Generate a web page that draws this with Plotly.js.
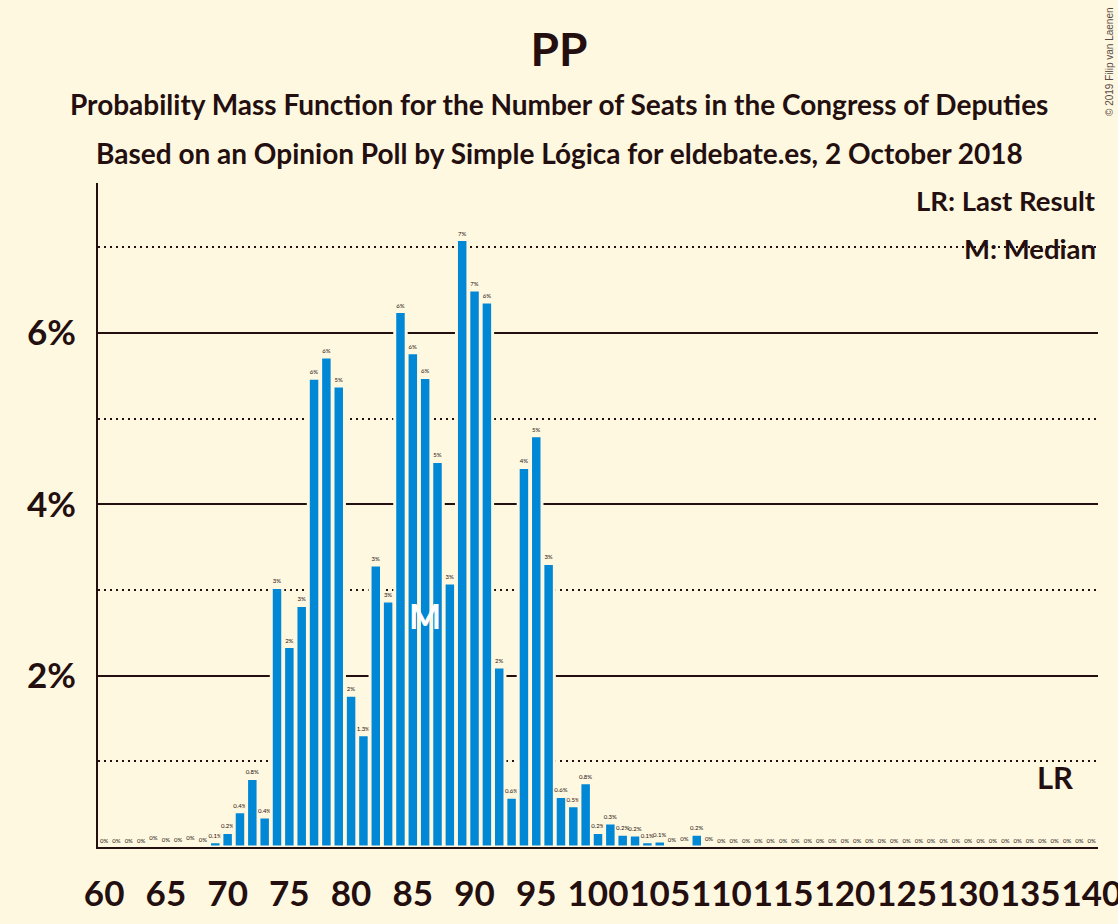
<!DOCTYPE html>
<html>
<head>
<meta charset="utf-8">
<script src="https://cdn.plot.ly/plotly-3.0.1.min.js"></script>
<style>
  html, body { margin: 0; padding: 0; background: #fff8e0; }
  #chart { width: 1118px; height: 924px; }
</style>
</head>
<body>
<div id="chart"></div>
<script>
// seats 60 .. 140
var seats = [];
for (var s = 60; s <= 140; s++) seats.push(s);

// probability (%) for each seat count
var probs = [
  0, 0, 0, 0, 0.03, 0.01, 0.01, 0.03, 0.01, 0.06,        // 60-69
  0.17, 0.41, 0.80, 0.35, 3.03, 2.34, 2.82, 5.47, 5.72, 5.38, // 70-79
  1.77, 1.31, 3.29, 2.87, 6.25, 5.77, 5.48, 4.50, 3.08, 7.09, // 80-89
  6.50, 6.36, 2.10, 0.58, 4.43, 4.80, 3.31, 0.59, 0.48, 0.75, // 90-99
  0.17, 0.28, 0.15, 0.14, 0.06, 0.07, 0.01, 0.02, 0.15, 0.02, // 100-109
  0, 0, 0, 0, 0, 0, 0, 0, 0, 0,                          // 110-119
  0, 0, 0, 0, 0, 0, 0, 0, 0, 0,                          // 120-129
  0, 0, 0, 0, 0, 0, 0, 0, 0, 0,                          // 130-139
  0                                                      // 140
];

// labels printed above the bars
var barLabels = [
  "0%", "0%", "0%", "0%", "0%", "0%", "0%", "0%", "0%", "0.1%",
  "0.2%", "0.4%", "0.8%", "0.4%", "3%", "2%", "3%", "6%", "6%", "5%",
  "2%", "1.3%", "3%", "3%", "6%", "6%", "6%", "5%", "3%", "7%",
  "7%", "6%", "2%", "0.6%", "4%", "5%", "3%", "0.6%", "0.5%", "0.8%",
  "0.2%", "0.3%", "0.2%", "0.2%", "0.1%", "0.1%", "0%", "0%", "0.2%", "0%",
  "0%", "0%", "0%", "0%", "0%", "0%", "0%", "0%", "0%", "0%",
  "0%", "0%", "0%", "0%", "0%", "0%", "0%", "0%", "0%", "0%",
  "0%", "0%", "0%", "0%", "0%", "0%", "0%", "0%", "0%", "0%",
  "0%"
];

var xTicks = [60, 65, 70, 75, 80, 85, 90, 95, 100, 105, 110, 115, 120, 125, 130, 135, 140];
var yTicks = [2, 4, 6];
var yTickText = ["2%", "4%", "6%"];

var medianSeats = 86;
var lastResult = 137;

var bg = "#fff8e0";
var ink = "#230f0f";
var blue = "#0088d6";

var trace = {
  type: "bar",
  x: seats,
  y: probs,
  text: barLabels,
  textposition: "outside",
  constraintext: "none",
  cliponaxis: false,
  textfont: {family: "Lato", size: 6, color: ink},
  marker: {color: blue, line: {color: bg, width: 3}},
  hoverinfo: "skip"
};

var layout = {
  width: 1118,
  height: 924,
  paper_bgcolor: bg,
  plot_bgcolor: bg,
  margin: {l: 98, r: 20, t: 183, b: 77},
  showlegend: false,
  bargap: 0.07,
  font: {family: "Lato", color: ink},
  title: {
    text: "<b>PP</b>",
    font: {family: "Lato", size: 46, color: ink},
    x: 0.5, xanchor: "center",
    y: 1 - 50 / 924, yanchor: "middle", yref: "container"
  },
  xaxis: {
    range: [59.5, 140.5],
    tickmode: "array",
    tickvals: xTicks,
    ticktext: xTicks.map(String),
    tickangle: 0,
    ticks: "",
    ticklabelstandoff: 15,
    ticklabeloverflow: "allow",
    tickfont: {family: "Lato", size: 35, color: ink, weight: "bold"},
    showgrid: false,
    zeroline: false,
    showline: true,
    linecolor: ink,
    linewidth: 2
  },
  yaxis: {
    range: [0, 7.75],
    tickmode: "array",
    tickvals: yTicks,
    ticktext: yTickText,
    ticks: "",
    ticklabelstandoff: 13,
    tickfont: {family: "Lato", size: 35, color: ink, weight: "bold"},
    showgrid: true,
    gridcolor: ink,
    gridwidth: 2,
    minor: {tickmode: "linear", tick0: 0, dtick: 1, showgrid: true,
            gridcolor: ink, gridwidth: 2, griddash: "2px,4px"},
    zeroline: false,
    showline: true,
    linecolor: ink,
    linewidth: 2
  },
  annotations: [
    {text: "<b>Probability Mass Function for the Number of Seats in the Congress of Deputies</b>",
     xref: "paper", yref: "paper", x: 0.461, y: (847 - 104) / 664,
     xanchor: "center", yanchor: "middle", showarrow: false,
     font: {family: "Lato", size: 28, color: ink}},
    {text: "<b>Based on an Opinion Poll by Simple Lógica for eldebate.es, 2 October 2018</b>",
     xref: "paper", yref: "paper", x: 0.461, y: (847 - 153) / 664,
     xanchor: "center", yanchor: "middle", showarrow: false,
     font: {family: "Lato", size: 28, color: ink}},
    {text: "<b>LR: Last Result</b>",
     xref: "paper", yref: "paper", x: 1, y: (847 - 200) / 664,
     xanchor: "right", yanchor: "middle", showarrow: false,
     font: {family: "Lato", size: 27.5, color: ink}},
    {text: "<b>M: Median</b>",
     xref: "paper", yref: "paper", x: 1, y: (847 - 248) / 664,
     xanchor: "right", yanchor: "middle", showarrow: false,
     font: {family: "Lato", size: 27.5, color: ink}},
    {text: "© 2019 Filip van Laenen",
     xref: "paper", yref: "paper", x: 1.012, y: (847 - 62) / 664,
     xanchor: "center", yanchor: "middle", showarrow: false, textangle: -90,
     font: {family: "Liberation Sans", size: 10, color: "#5a4a4a"}},
    {text: "<b>M</b>",
     xref: "x", yref: "y", x: medianSeats, y: 2.7,
     xanchor: "center", yanchor: "middle", showarrow: false,
     font: {family: "Lato", size: 34, color: "#ffffff"}},
    {text: "<b>LR</b>",
     xref: "x", yref: "y", x: lastResult, y: 0.82,
     xanchor: "center", yanchor: "middle", showarrow: false,
     font: {family: "Lato", size: 31, color: ink}}
  ]
};

Plotly.newPlot("chart", [trace], layout, {displayModeBar: false, staticPlot: true});
</script>
</body>
</html>
